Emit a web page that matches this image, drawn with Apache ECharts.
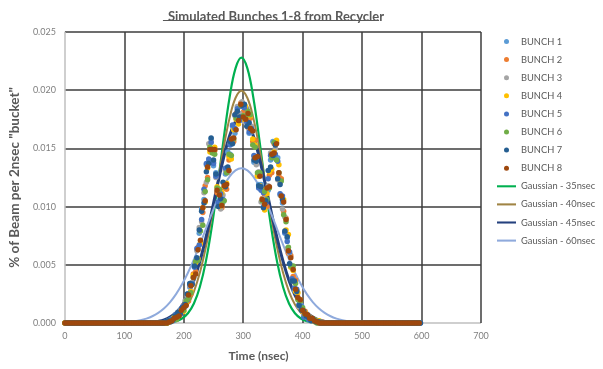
<!DOCTYPE html>
<html><head><meta charset="utf-8">
<script src="https://cdn.jsdelivr.net/npm/echarts@6/dist/echarts.min.js"></script>
<style>html,body{margin:0;padding:0;background:#fff}#c{width:603px;height:369px}</style>
</head><body><div id="c"></div>
<script>
// ---------------- DATA ----------------
const chartTitle = 'Simulated Bunches 1-8 from Recycler';
const xAxisTitle = 'Time (nsec)';
const yAxisTitle = '% of Beam per 2nsec "bucket"';
const bunchNames = ['BUNCH 1','BUNCH 2','BUNCH 3','BUNCH 4','BUNCH 5','BUNCH 6','BUNCH 7','BUNCH 8'];
const gaussNames = ['Gaussian - 35nsec','Gaussian - 40nsec','Gaussian - 45nsec','Gaussian - 60nsec'];

// Each bunch: readings listed every 4 ns from its first listed bucket (odd bunches 170 ns, even bunches 172 ns);
// every other bucket of that bunch from 0 to 598 ns reads 0.000
const readStarts = [170,172,170,172,170,172,170,172];
const readStep = 4;
const lastBucket = 598;

const bunch1 = [0,0.0001,0.0003,0.0003,0.0006,0.0006,0.0011,0.0013,0.0014,0.0025,0.0031,0.0034,0.0050,0.0053,0.0077,0.0098,0.0106,0.0136,0.0139,0.0158,0.0135,0.0129,0.0103,0.0110,0.0104,0.0128,0.0147,0.0145,0.0169,0.0163,0.0181,0.0176,0.0189,0.0178,0.0184,0.0163,0.0164,0.0138,0.0140,0.0119,0.0119,0.0100,0.0115,0.0114,0.0140,0.0156,0.0143,0.0142,0.0110,0.0103,0.0077,0.0073,0.0051,0.0048,0.0028,0.0026,0.0015,0.0015,0.0007,0.0008,0.0003,0.0004,0.0002,0.0002,0.0001,0];
const bunch2 = [0.0001,0.0001,0.0002,0.0005,0.0004,0.0008,0.0009,0.0015,0.0018,0.0019,0.0025,0.0042,0.0044,0.0065,0.0068,0.0095,0.0118,0.0125,0.0150,0.0149,0.0148,0.0112,0.0113,0.0099,0.0116,0.0115,0.0140,0.0157,0.0156,0.0180,0.0173,0.0189,0.0181,0.0184,0.0168,0.0176,0.0156,0.0157,0.0127,0.0127,0.0107,0.0110,0.0100,0.0127,0.0129,0.0154,0.0155,0.0126,0.0124,0.0096,0.0090,0.0060,0.0058,0.0040,0.0037,0.0021,0.0019,0.0010,0.0010,0.0005,0.0005,0.0003,0.0003,0.0001,0.0001,0.0001];
const bunch3 = [0,0.0002,0.0001,0.0004,0.0005,0.0009,0.0007,0.0012,0.0019,0.0023,0.0032,0.0035,0.0040,0.0062,0.0082,0.0087,0.0112,0.0121,0.0154,0.0156,0.0138,0.0125,0.0114,0.0098,0.0110,0.0131,0.0129,0.0154,0.0159,0.0178,0.0186,0.0180,0.0190,0.0173,0.0179,0.0166,0.0169,0.0143,0.0136,0.0130,0.0104,0.0107,0.0113,0.0118,0.0146,0.0143,0.0150,0.0123,0.0121,0.0098,0.0091,0.0064,0.0060,0.0037,0.0035,0.0028,0.0014,0.0013,0.0006,0.0007,0.0004,0.0002,0.0002,0.0002,0,0];
const bunch4 = [0,0.0001,0.0003,0.0004,0.0004,0.0007,0.0010,0.0010,0.0017,0.0024,0.0027,0.0041,0.0052,0.0055,0.0069,0.0099,0.0104,0.0133,0.0147,0.0147,0.0151,0.0117,0.0100,0.0112,0.0117,0.0120,0.0143,0.0141,0.0166,0.0175,0.0171,0.0186,0.0175,0.0186,0.0171,0.0178,0.0158,0.0153,0.0126,0.0118,0.0115,0.0097,0.0111,0.0130,0.0132,0.0147,0.0157,0.0136,0.0109,0.0106,0.0080,0.0076,0.0048,0.0045,0.0027,0.0026,0.0020,0.0010,0.0009,0.0005,0.0005,0.0003,0.0001,0.0001,0.0002,0];
const bunch5 = [0.0001,0.0001,0.0003,0.0002,0.0007,0.0007,0.0008,0.0014,0.0015,0.0020,0.0033,0.0034,0.0048,0.0064,0.0067,0.0089,0.0115,0.0137,0.0141,0.0155,0.0137,0.0126,0.0104,0.0111,0.0106,0.0133,0.0133,0.0153,0.0170,0.0167,0.0184,0.0174,0.0186,0.0185,0.0173,0.0164,0.0167,0.0144,0.0142,0.0116,0.0114,0.0112,0.0103,0.0124,0.0144,0.0142,0.0145,0.0139,0.0111,0.0109,0.0078,0.0070,0.0061,0.0038,0.0030,0.0029,0.0016,0.0014,0.0005,0.0007,0.0003,0.0004,0.0002,0.0001,0.0001,0.0001];
const bunch6 = [0,0.0002,0.0002,0.0005,0.0003,0.0008,0.0010,0.0011,0.0019,0.0021,0.0026,0.0039,0.0053,0.0054,0.0079,0.0084,0.0113,0.0123,0.0151,0.0146,0.0145,0.0116,0.0115,0.0102,0.0105,0.0129,0.0145,0.0144,0.0158,0.0176,0.0175,0.0187,0.0178,0.0176,0.0182,0.0179,0.0153,0.0151,0.0129,0.0129,0.0105,0.0113,0.0106,0.0116,0.0142,0.0155,0.0140,0.0129,0.0122,0.0093,0.0087,0.0065,0.0049,0.0049,0.0034,0.0020,0.0019,0.0013,0.0007,0.0006,0.0004,0.0003,0.0003,0,0.0001,0];
const bunch7 = [0.0001,0.0002,0.0001,0.0003,0.0006,0.0009,0.0008,0.0013,0.0016,0.0025,0.0034,0.0033,0.0049,0.0056,0.0080,0.0096,0.0103,0.0130,0.0137,0.0159,0.0140,0.0128,0.0100,0.0107,0.0121,0.0117,0.0134,0.0156,0.0154,0.0179,0.0182,0.0177,0.0187,0.0188,0.0169,0.0172,0.0166,0.0140,0.0139,0.0118,0.0117,0.0099,0.0105,0.0131,0.0134,0.0144,0.0153,0.0124,0.0119,0.0106,0.0079,0.0074,0.0051,0.0036,0.0036,0.0027,0.0015,0.0011,0.0010,0.0006,0.0005,0.0002,0.0003,0.0001,0.0001,0];
const bunch8 = [0,0.0001,0.0002,0.0004,0.0005,0.0006,0.0011,0.0013,0.0015,0.0024,0.0032,0.0039,0.0042,0.0063,0.0071,0.0099,0.0105,0.0134,0.0149,0.0149,0.0149,0.0114,0.0110,0.0101,0.0118,0.0119,0.0131,0.0158,0.0159,0.0166,0.0174,0.0188,0.0177,0.0175,0.0180,0.0167,0.0165,0.0142,0.0143,0.0126,0.0106,0.0102,0.0116,0.0117,0.0145,0.0146,0.0154,0.0129,0.0109,0.0104,0.0089,0.0062,0.0056,0.0046,0.0029,0.0022,0.0020,0.0011,0.0008,0.0007,0.0004,0.0004,0.0002,0.0001,0,0];

const gaussTimes = [7,17,27,37,47,57,67,77,87,97,107,117,127,137,147,157,167,177,187,197,207,217,227,237,247,257,267,277,287,297,307,317,327,337,347,357,367,377,387,397,407,417,427,437,447,457,467,477,487,497,507,517,527,537,547,557,567,577,587];
const gauss35 = [0,0,0,0,0,0,0,0,0,0,0,0,0,0,0,0.00001,0.00002,0.00006,0.00016,0.00039,0.00084,0.00167,0.00309,0.00525,0.00822,0.01187,0.01579,0.01936,0.02188,0.02280,0.02188,0.01936,0.01579,0.01187,0.00822,0.00525,0.00309,0.00167,0.00084,0.00039,0.00016,0.00006,0.00002,0.00001,0,0,0,0,0,0,0,0,0,0,0,0,0,0,0];
const gauss40 = [0,0,0,0,0,0,0,0,0,0,0,0,0,0.00001,0.00002,0.00004,0.00010,0.00022,0.00045,0.00088,0.00159,0.00270,0.00431,0.00648,0.00913,0.01210,0.01506,0.01760,0.01933,0.01995,0.01933,0.01760,0.01506,0.01210,0.00913,0.00648,0.00431,0.00270,0.00159,0.00088,0.00045,0.00022,0.00010,0.00004,0.00002,0.00001,0,0,0,0,0,0,0,0,0,0,0,0,0];
const gauss45 = [0,0,0,0,0,0,0,0,0,0,0,0,0.00001,0.00003,0.00007,0.00014,0.00027,0.00051,0.00089,0.00150,0.00240,0.00365,0.00529,0.00729,0.00956,0.01194,0.01420,0.01606,0.01730,0.01773,0.01730,0.01606,0.01420,0.01194,0.00956,0.00729,0.00529,0.00365,0.00240,0.00150,0.00089,0.00051,0.00027,0.00014,0.00007,0.00003,0.00001,0,0,0,0,0,0,0,0,0,0,0,0];
const gauss60 = [0,0,0,0,0,0,0.00001,0.00002,0.00003,0.00005,0.00009,0.00015,0.00024,0.00038,0.00058,0.00087,0.00127,0.00180,0.00248,0.00332,0.00432,0.00547,0.00673,0.00807,0.00940,0.01065,0.01174,0.01258,0.01311,0.01330,0.01311,0.01258,0.01174,0.01065,0.00940,0.00807,0.00673,0.00547,0.00432,0.00332,0.00248,0.00180,0.00127,0.00087,0.00058,0.00038,0.00024,0.00015,0.00009,0.00005,0.00003,0.00002,0.00001,0,0,0,0,0,0];

const xMin = 0, xMax = 700, xStep = 100;
const yMin = 0, yMax = 0.025, yStep = 0.005;

// ---------------- STYLE ----------------
const bunchColors = ['#5B9BD5','#ED7D31','#A5A5A5','#FFC000','#4472C4','#70AD47','#255E91','#9E480E'];
const gaussColors = ['#00B050','#A08444','#24417E','#8FAADC'];
const gaussWidths = [2.2,2,3,2];
const FONT = 'Lato, "Open Sans", sans-serif';

function bunchSeriesData(vals, start){
  const out = [];
  const lastRead = start + readStep*(vals.length-1);
  for (let t = start % readStep; t <= lastBucket; t += readStep){
    if (t >= start && t <= lastRead) out.push([t, vals[(t-start)/readStep]]);
    else out.push([t, 0]);
  }
  return out;
}
const bunches = [bunch1,bunch2,bunch3,bunch4,bunch5,bunch6,bunch7,bunch8];
const gausses = [gauss35,gauss40,gauss45,gauss60];

const series = [];
bunches.forEach((vals,i)=>{
  series.push({
    name: bunchNames[i], type:'scatter', symbol:'circle', symbolSize:5.5, clip:false, z:3,
    color: bunchColors[i], itemStyle:{opacity:1}, data: bunchSeriesData(vals, readStarts[i]),
    silent:true, large:false
  });
});
gausses.forEach((vals,i)=>{
  series.push({
    name: gaussNames[i], type:'line', showSymbol:false, symbol:'none', smooth:0.4, z:2,
    color: gaussColors[i], lineStyle:{width:gaussWidths[i], color:gaussColors[i]},
    data: gaussTimes.map((t,k)=>[t, vals[k]]), silent:true
  });
});

const gridColorsX = ['#BFBFBF','#3C3C3C','#3C3C3C','#3C3C3C','#3C3C3C','#3C3C3C','#3C3C3C','#3C3C3C'];
const gridColorsY = ['#BFBFBF','#3C3C3C','#3C3C3C','#3C3C3C','#3C3C3C','#3C3C3C'];

const chart = echarts.init(document.getElementById('c'), null, {renderer:'canvas'});
const titleLeft = 271, titleTop = 5, titleSize = 13;
chart.setOption({
  animation:false,
  backgroundColor:'#fff',
  title:{ text: chartTitle, left: titleLeft, top: titleTop, textAlign:'center',
    textStyle:{ fontFamily:FONT, fontSize:titleSize, fontWeight:'bold', color:'#595959' } },
  grid:{ left:62, right:122, top:32, bottom:46, containLabel:false },
  legend:{
    orient:'vertical', left:497, top:37, padding:0, itemWidth:19, itemHeight:5, itemGap:9.1,
    textStyle:{ fontFamily:FONT, fontSize:9.3, color:'#595959' },
    data: bunchNames.map(n=>({name:n, icon:'circle'}))
      .concat(gaussNames.map(n=>({name:n, icon:'path://M0,0H22V2.4H0Z'})))
  },
  xAxis:{
    type:'value', min:xMin, max:xMax, interval:xStep,
    name: xAxisTitle, nameLocation:'middle', nameGap:27,
    nameTextStyle:{ fontFamily:FONT, fontSize:12, fontWeight:'bold', color:'#595959', padding:[0,29,0,0] },
    axisLine:{ show:false }, axisTick:{ show:false },
    axisLabel:{ fontFamily:FONT, fontSize:9, color:'#7F7F7F', margin:9 },
    splitLine:{ show:true, lineStyle:{ color:gridColorsX, width:1.5 } }
  },
  yAxis:{
    type:'value', min:yMin, max:yMax, interval:yStep,
    name: yAxisTitle, nameLocation:'middle', nameGap:35,
    nameTextStyle:{ fontFamily:FONT, fontSize:13.5, fontWeight:'bold', color:'#595959' },
    axisLine:{ show:false }, axisTick:{ show:false },
    axisLabel:{ fontFamily:FONT, fontSize:9, color:'#7F7F7F', margin:9, formatter:v=>v.toFixed(3) },
    splitLine:{ show:true, lineStyle:{ color:gridColorsY, width:1.5 } }
  },
  series: series
});

// underline for the title (decoration only)
const ctx = document.createElement('canvas').getContext('2d');
ctx.font = 'bold ' + titleSize + 'px ' + FONT;
const tw = ctx.measureText(chartTitle).width;
chart.setOption({ graphic:[{ type:'rect', silent:true,
  shape:{ x: titleLeft - tw/2, y: titleTop + titleSize + 2, width: tw, height: 1 },
  style:{ fill:'#595959' } }] });
</script>
</body></html>
